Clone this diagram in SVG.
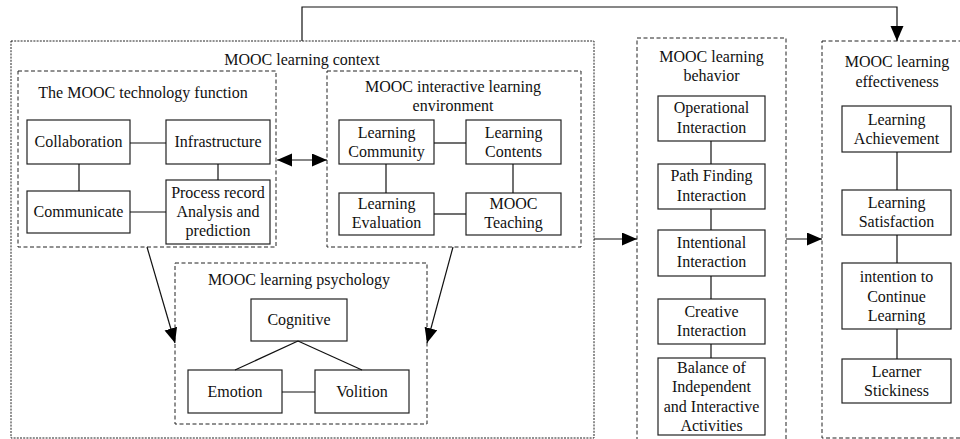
<svg xmlns="http://www.w3.org/2000/svg" width="960" height="439" viewBox="0 0 960 439" font-family="'Liberation Serif', 'DejaVu Serif', serif">
<style>
text{font-family:'Liberation Serif','DejaVu Serif',serif;font-size:16px;fill:#111;text-anchor:middle}
.b{fill:#fff;stroke:#222;stroke-width:1.2}
.outer{fill:none;stroke:#222;stroke-width:1;stroke-dasharray:2,1.2}
.grp{fill:none;stroke:#222;stroke-width:1;stroke-dasharray:4,2.5}
.c{fill:none;stroke:#111;stroke-width:1.2}
.ar{fill:none;stroke:#111;stroke-width:1.2;marker-end:url(#ah)}
</style>
<defs>
<marker id="ah" markerUnits="userSpaceOnUse" markerWidth="16" markerHeight="14" refX="15" refY="6.5" orient="auto-start-reverse" viewBox="0 0 16 14">
<path d="M0,0 L15,6.5 L0,13 z" fill="#000"/>
</marker>
</defs>
<rect width="960" height="439" fill="#fff"/>

<g id="context">
<rect class="outer" x="11" y="41" width="583" height="397"/>
<text x="302" y="65">MOOC learning context</text>
</g>

<g id="tech">
<rect class="grp" x="18" y="71" width="258" height="176"/>
<text x="143" y="98">The MOOC technology function</text>
</g>
<g id="collaboration"><rect class="b" x="27" y="120" width="103" height="44"/><text x="78.5" y="147">Collaboration</text></g>
<g id="infrastructure"><rect class="b" x="166" y="120" width="104" height="44"/><text x="218" y="147">Infrastructure</text></g>
<g id="communicate"><rect class="b" x="27" y="191" width="103" height="42"/><text x="78.5" y="217">Communicate</text></g>
<g id="process"><rect class="b" x="166" y="180" width="104" height="64"/><text x="218" y="198">Process record</text><text x="218" y="217">Analysis and</text><text x="218" y="236">prediction</text></g>

<g id="environment">
<rect class="grp" x="327" y="71" width="254" height="176"/>
<text x="453" y="92">MOOC interactive learning</text>
<text x="453" y="111">environment</text>
</g>
<g id="community"><rect class="b" x="339" y="120" width="95" height="44"/><text x="386.5" y="138">Learning</text><text x="386.5" y="157">Community</text></g>
<g id="contents"><rect class="b" x="466" y="120" width="95" height="44"/><text x="513.5" y="138">Learning</text><text x="513.5" y="157">Contents</text></g>
<g id="evaluation"><rect class="b" x="339" y="193" width="95" height="42"/><text x="386.5" y="209">Learning</text><text x="386.5" y="228">Evaluation</text></g>
<g id="teaching"><rect class="b" x="466" y="193" width="95" height="42"/><text x="513.5" y="209">MOOC</text><text x="513.5" y="228">Teaching</text></g>

<g id="psychology">
<rect class="grp" x="175" y="263" width="252" height="161"/>
<text x="299" y="285">MOOC learning psychology</text>
</g>
<g id="cognitive"><rect class="b" x="251" y="299" width="96" height="42"/><text x="299" y="325">Cognitive</text></g>
<g id="emotion"><rect class="b" x="188" y="370" width="94" height="43"/><text x="235" y="397">Emotion</text></g>
<g id="volition"><rect class="b" x="315" y="370" width="94" height="43"/><text x="362" y="397">Volition</text></g>

<g id="behavior">
<rect class="grp" x="637" y="38" width="149" height="410"/>
<text x="711.5" y="62">MOOC learning</text>
<text x="711.5" y="81">behavior</text>
</g>
<g id="operational"><rect class="b" x="658" y="96" width="107" height="45"/><text x="711.5" y="113">Operational</text><text x="711.5" y="133">Interaction</text></g>
<g id="pathfinding"><rect class="b" x="658" y="164" width="107" height="45"/><text x="711.5" y="181">Path Finding</text><text x="711.5" y="201">Interaction</text></g>
<g id="intentional"><rect class="b" x="658" y="230" width="107" height="46"/><text x="711.5" y="248">Intentional</text><text x="711.5" y="267">Interaction</text></g>
<g id="creative"><rect class="b" x="658" y="299" width="107" height="45"/><text x="711.5" y="317">Creative</text><text x="711.5" y="336">Interaction</text></g>
<g id="balance"><rect class="b" x="658" y="358" width="107" height="77"/><text x="711.5" y="373">Balance of</text><text x="711.5" y="392">Independent</text><text x="711.5" y="412">and Interactive</text><text x="711.5" y="431">Activities</text></g>

<g id="effectiveness">
<rect class="grp" x="822" y="41" width="150" height="397"/>
<text x="897" y="67">MOOC learning</text>
<text x="897" y="87">effectiveness</text>
</g>
<g id="achievement"><rect class="b" x="842" y="106" width="109" height="46"/><text x="896.5" y="125">Learning</text><text x="896.5" y="144">Achievement</text></g>
<g id="satisfaction"><rect class="b" x="842" y="190" width="109" height="45"/><text x="896.5" y="208">Learning</text><text x="896.5" y="227">Satisfaction</text></g>
<g id="continue"><rect class="b" x="842" y="263" width="109" height="66"/><text x="896.5" y="282">intention to</text><text x="896.5" y="302">Continue</text><text x="896.5" y="321">Learning</text></g>
<g id="stickiness"><rect class="b" x="842" y="359" width="109" height="44"/><text x="896.5" y="377">Learner</text><text x="896.5" y="396">Stickiness</text></g>

<g id="connectors">
<line class="c" x1="130" y1="143" x2="166" y2="143"/>
<line class="c" x1="79" y1="164" x2="79" y2="191"/>
<line class="c" x1="218" y1="164" x2="218" y2="180"/>
<line class="c" x1="130" y1="212" x2="166" y2="212"/>
<line class="c" x1="434" y1="143" x2="466" y2="143"/>
<line class="c" x1="386" y1="164" x2="386" y2="193"/>
<line class="c" x1="513" y1="164" x2="513" y2="193"/>
<line class="c" x1="434" y1="214" x2="466" y2="214"/>
<line class="c" x1="298" y1="341" x2="235" y2="370"/>
<line class="c" x1="298" y1="341" x2="362" y2="370"/>
<line class="c" x1="282" y1="392" x2="315" y2="392"/>
<line class="c" x1="711" y1="141" x2="711" y2="164"/>
<line class="c" x1="711" y1="209" x2="711" y2="230"/>
<line class="c" x1="711" y1="276" x2="711" y2="299"/>
<line class="c" x1="711" y1="344" x2="711" y2="358"/>
<line class="c" x1="897" y1="152" x2="897" y2="190"/>
<line class="c" x1="897" y1="235" x2="897" y2="263"/>
<line class="c" x1="897" y1="329" x2="897" y2="359"/>
<line class="ar" x1="277" y1="160" x2="327" y2="160" marker-start="url(#ah)"/>
<line class="ar" x1="147" y1="247" x2="175" y2="343"/>
<line class="ar" x1="453" y1="247" x2="427" y2="343"/>
<line class="ar" x1="594" y1="239" x2="637" y2="239"/>
<line class="ar" x1="786" y1="239" x2="822" y2="239"/>
<path class="ar" d="M302,41 V7 H897 V41"/>
</g>
</svg>
